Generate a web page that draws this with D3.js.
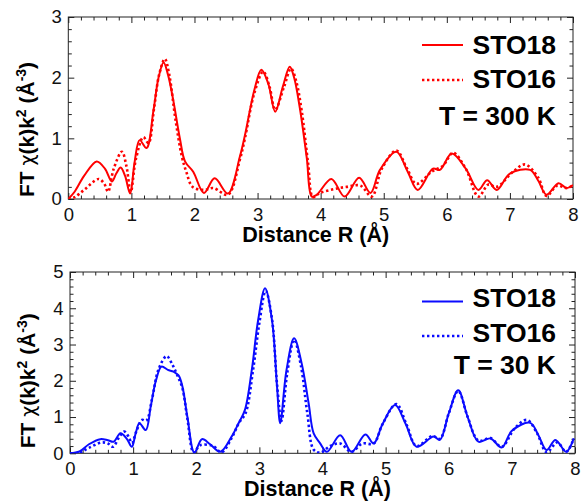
<!DOCTYPE html>
<html>
<head>
<meta charset="utf-8">
<script src="https://cdn.jsdelivr.net/npm/d3@7"></script>
<style>
  html, body { margin: 0; padding: 0; background: #fff; }
  svg { display: block; font-family: "Liberation Sans", Arial, sans-serif; }
</style>
</head>
<body>
<svg id="chart" width="586" height="504"></svg>
<script>
// |FT| of k^2-weighted EXAFS, pairs of [R (Å), magnitude (Å^-3)]
const sto18_300K = [[0,0],[0.1,0.12],[0.25,0.38],[0.45,0.62],[0.58,0.5],[0.69,0.29],[0.76,0.42],[0.83,0.52],[0.9,0.38],[0.98,0.09],[1.05,0.6],[1.13,0.97],[1.24,0.84],[1.35,1.46],[1.43,2.0],[1.51,2.25],[1.58,2.05],[1.66,1.65],[1.77,0.99],[1.85,0.62],[1.98,0.45],[2.15,0.1],[2.32,0.34],[2.53,0.09],[2.72,0.7],[2.8,1.05],[2.95,1.8],[3.06,2.13],[3.17,1.9],[3.28,1.44],[3.4,1.85],[3.51,2.18],[3.58,2.0],[3.67,1.5],[3.78,0.68],[3.86,0.04],[3.94,0.07],[4.17,0.33],[4.38,0.04],[4.61,0.35],[4.79,0.1],[4.94,0.48],[5.2,0.78],[5.38,0.45],[5.54,0.15],[5.78,0.5],[5.89,0.48],[6.08,0.75],[6.3,0.5],[6.5,0.15],[6.64,0.31],[6.79,0.15],[7.0,0.42],[7.32,0.48],[7.45,0.3],[7.58,0.07],[7.77,0.26],[7.9,0.18],[8.0,0.23]];
const sto16_300K = [[0,0],[0.1,0.03],[0.25,0.15],[0.48,0.33],[0.57,0.25],[0.63,0.12],[0.72,0.5],[0.85,0.78],[0.92,0.55],[0.99,0.12],[1.07,0.65],[1.19,1.02],[1.27,0.92],[1.36,1.5],[1.44,2.05],[1.53,2.31],[1.6,2.05],[1.7,1.3],[1.8,0.7],[1.87,0.45],[1.97,0.2],[2.15,0.15],[2.3,0.18],[2.53,0.07],[2.72,0.65],[2.8,1.0],[2.95,1.75],[3.09,2.1],[3.19,1.85],[3.28,1.47],[3.42,1.85],[3.53,2.15],[3.61,1.95],[3.7,1.45],[3.8,0.6],[3.88,0.03],[3.99,0.1],[4.2,0.16],[4.41,0.2],[4.63,0.22],[4.81,0.04],[4.97,0.5],[5.2,0.8],[5.37,0.5],[5.52,0.25],[5.76,0.45],[5.94,0.55],[6.1,0.76],[6.3,0.5],[6.5,0.04],[6.66,0.24],[6.79,0.2],[7.05,0.45],[7.24,0.57],[7.45,0.35],[7.58,0.05],[7.75,0.22],[7.9,0.18],[8.0,0.23]];
const sto18_30K = [[0,0],[0.15,0.05],[0.3,0.25],[0.48,0.39],[0.6,0.36],[0.69,0.32],[0.8,0.55],[0.9,0.4],[0.98,0.18],[1.04,0.55],[1.1,0.83],[1.2,0.64],[1.28,1.3],[1.36,2.0],[1.45,2.39],[1.55,2.3],[1.64,2.25],[1.72,2.15],[1.78,1.85],[1.86,1.0],[1.97,0.02],[2.09,0.39],[2.22,0.25],[2.38,0.04],[2.56,0.46],[2.67,0.83],[2.77,1.19],[2.88,2.3],[2.98,3.67],[3.09,4.55],[3.2,3.67],[3.28,1.83],[3.33,0.83],[3.43,2.3],[3.55,3.17],[3.67,2.48],[3.78,1.38],[3.86,0.55],[3.96,0.28],[4.07,0.04],[4.28,0.5],[4.46,0.04],[4.68,0.52],[4.81,0.27],[4.95,0.8],[5.15,1.33],[5.32,0.8],[5.49,0.18],[5.76,0.46],[5.86,0.37],[6.0,1.1],[6.15,1.74],[6.3,1.0],[6.47,0.32],[6.66,0.41],[6.84,0.16],[7.0,0.62],[7.29,0.84],[7.42,0.5],[7.55,0.09],[7.69,0.37],[7.86,0.04],[7.98,0.41]];
const sto16_30K = [[0,0],[0.15,0.02],[0.3,0.15],[0.5,0.3],[0.6,0.27],[0.68,0.18],[0.78,0.45],[0.86,0.6],[0.93,0.45],[0.98,0.28],[1.05,0.6],[1.14,0.92],[1.21,0.9],[1.3,1.5],[1.4,2.3],[1.53,2.68],[1.62,2.45],[1.7,2.15],[1.78,1.8],[1.86,0.95],[1.96,0.02],[2.06,0.22],[2.27,0.2],[2.4,0.03],[2.56,0.42],[2.68,0.85],[2.78,1.1],[2.9,2.3],[3.0,3.6],[3.1,4.48],[3.2,3.7],[3.28,1.9],[3.35,0.9],[3.44,2.2],[3.55,3.13],[3.66,2.4],[3.76,1.1],[3.86,0.1],[3.97,0.02],[4.12,0.2],[4.28,0.27],[4.46,0.04],[4.63,0.27],[4.81,0.27],[4.95,0.8],[5.17,1.36],[5.33,0.8],[5.49,0.2],[5.74,0.48],[5.86,0.4],[6.0,1.1],[6.15,1.72],[6.3,1.0],[6.47,0.35],[6.66,0.42],[6.84,0.18],[7.05,0.7],[7.24,0.92],[7.4,0.55],[7.55,0.03],[7.72,0.3],[7.86,0.04],[7.98,0.4]];

const xTicks = [0, 1, 2, 3, 4, 5, 6, 7, 8];
const yTicksTop = [0, 1, 2, 3];
const yTicksBottom = [0, 1, 2, 3, 4, 5];
const seriesNames = ["STO18", "STO16"];
const tempLabels = ["T = 300 K", "T = 30 K"];

const svg = d3.select("#chart");

const panels = [
  { box: { left: 68.3, right: 573, top: 17, bottom: 199 }, yMax: 3, yTicks: yTicksTop,
    color: "#ff0000", series: [sto18_300K, sto16_300K], temp: tempLabels[0],
    legendY: [45, 80], textY: [53.5, 87.5, 125] },
  { box: { left: 70, right: 575, top: 272, bottom: 453.3 }, yMax: 5, yTicks: yTicksBottom,
    color: "#0b0bff", series: [sto18_30K, sto16_30K], temp: tempLabels[1],
    legendY: [301.5, 336], textY: [307, 342, 374] }
];

const range = (a, b, s) => d3.range(Math.round((b - a) / s) + 1).map(i => +(a + i * s).toFixed(4));

panels.forEach((p, i) => {
  const b = p.box;
  const x = d3.scaleLinear().domain([0, 8]).range([b.left, b.right]);
  const y = d3.scaleLinear().domain([0, p.yMax]).range([b.bottom, b.top]);
  const g = svg.append("g");

  const clipId = "clip" + i;
  svg.append("clipPath").attr("id", clipId).append("rect")
    .attr("x", b.left).attr("y", b.top).attr("width", b.right - b.left).attr("height", b.bottom - b.top);

  // minor ticks (inward, all four sides)
  const xMinor = range(0, 8, 0.2).filter(v => Math.abs(v - Math.round(v)) > 1e-6);
  const yMinor = range(0, p.yMax, 0.2).filter(v => Math.abs(v - Math.round(v)) > 1e-6);
  const tickStyle = sel => sel.call(s => s.select(".domain").remove())
    .selectAll("line").attr("stroke", "#222").attr("stroke-width", 1);

  g.append("g").attr("transform", `translate(0,${b.bottom})`)
    .call(d3.axisBottom(x).tickValues(xMinor).tickSize(-3.5).tickFormat(""))
    .call(tickStyle);
  g.append("g").attr("transform", `translate(0,${b.top})`)
    .call(d3.axisTop(x).tickValues(xMinor).tickSize(-3.5).tickFormat(""))
    .call(tickStyle);
  g.append("g").attr("transform", `translate(${b.left},0)`)
    .call(d3.axisLeft(y).tickValues(yMinor).tickSize(-3.5).tickFormat(""))
    .call(tickStyle);
  g.append("g").attr("transform", `translate(${b.right},0)`)
    .call(d3.axisRight(y).tickValues(yMinor).tickSize(-3.5).tickFormat(""))
    .call(tickStyle);

  // major ticks with labels
  const labelStyle = sel => sel.selectAll("text")
    .attr("fill", "#111").style("font-size", "18.5px").style("font-family", "Liberation Sans, Arial, sans-serif");
  g.append("g").attr("transform", `translate(0,${b.bottom})`)
    .call(d3.axisBottom(x).tickValues(xTicks).tickSizeInner(-6).tickSizeOuter(0).tickPadding(9).tickFormat(d3.format("d")))
    .call(tickStyle).call(labelStyle);
  g.append("g").attr("transform", `translate(0,${b.top})`)
    .call(d3.axisTop(x).tickValues(xTicks).tickSize(-6).tickFormat(""))
    .call(tickStyle);
  g.append("g").attr("transform", `translate(${b.left},0)`)
    .call(d3.axisLeft(y).tickValues(p.yTicks).tickSizeInner(-6).tickSizeOuter(0).tickPadding(6.5).tickFormat(d3.format("d")))
    .call(tickStyle).call(labelStyle);
  g.append("g").attr("transform", `translate(${b.right},0)`)
    .call(d3.axisRight(y).tickValues(p.yTicks).tickSize(-6).tickFormat(""))
    .call(tickStyle);

  // frame
  g.append("rect").attr("x", b.left).attr("y", b.top)
    .attr("width", b.right - b.left).attr("height", b.bottom - b.top)
    .attr("fill", "none").attr("stroke", "#222").attr("stroke-width", 1);

  // spectra
  const line = d3.line().x(d => x(d[0])).y(d => y(d[1])).curve(d3.curveCatmullRom.alpha(0.5));
  const plot = g.append("g").attr("clip-path", `url(#${clipId})`);
  plot.append("path").datum(p.series[1]).attr("d", line)
    .attr("fill", "none").attr("stroke", p.color).attr("stroke-width", 2.6)
    .attr("stroke-dasharray", "2.4,2.6");
  plot.append("path").datum(p.series[0]).attr("d", line)
    .attr("fill", "none").attr("stroke", p.color).attr("stroke-width", 2)
    .attr("stroke-linejoin", "round");

  // legend
  const lx0 = 422, lx1 = 463;
  g.append("line").attr("x1", lx0).attr("x2", lx1).attr("y1", p.legendY[0]).attr("y2", p.legendY[0])
    .attr("stroke", p.color).attr("stroke-width", 2);
  g.append("line").attr("x1", lx0).attr("x2", lx1).attr("y1", p.legendY[1]).attr("y2", p.legendY[1])
    .attr("stroke", p.color).attr("stroke-width", 2.6).attr("stroke-dasharray", "2.4,2.6");
  const bigText = (txt, ty) => g.append("text").attr("x", 556).attr("y", ty)
    .attr("text-anchor", "end").attr("font-weight", "bold").attr("font-size", 26.5)
    .attr("fill", "#000").text(txt);
  bigText(seriesNames[0], p.textY[0]);
  bigText(seriesNames[1], p.textY[1]);
  bigText(p.temp, p.textY[2]);

  // axis titles
  g.append("text").attr("x", (b.left + b.right) / 2 - 5).attr("y", b.bottom + 43)
    .attr("text-anchor", "middle").attr("font-weight", "bold").attr("font-size", 21.5)
    .attr("fill", "#000").text("Distance R (Å)");

  const yt = g.append("text")
    .attr("transform", `translate(${i === 0 ? 33.5 : 35},${b.bottom - (i === 0 ? 2 : 5)}) rotate(-90)`)
    .attr("text-anchor", "start").attr("font-size", 21).attr("font-weight", "bold").attr("fill", "#000");
  yt.append("tspan").text("FT ");
  yt.append("tspan").attr("font-weight", "normal").attr("font-family", "DejaVu Sans, sans-serif").attr("font-size", 19).text("χ");
  yt.append("tspan").text("(k)k");
  yt.append("tspan").attr("font-size", 14).attr("dy", -8).text("2");
  yt.append("tspan").attr("dy", 8).text(" (Å");
  yt.append("tspan").attr("font-size", 14).attr("dy", -8).text("-3");
  yt.append("tspan").attr("dy", 8).text(")");
});
</script>
</body>
</html>
